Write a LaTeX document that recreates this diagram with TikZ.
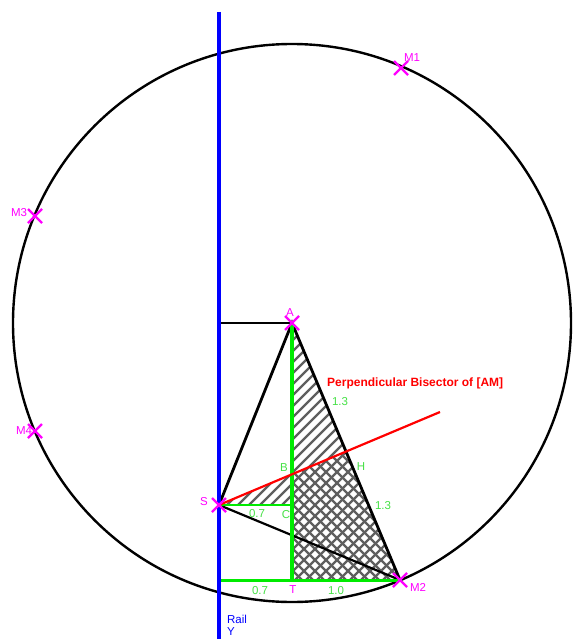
\documentclass[tikz,border=0pt]{standalone}
\usepackage{fontspec}
\setmainfont{Liberation Sans}
\definecolor{lime}{RGB}{0,235,0}
\definecolor{limetext}{RGB}{70,225,70}
\definecolor{mag}{RGB}{255,0,255}
\definecolor{hatchgray}{RGB}{95,95,95}
\definecolor{railblue}{RGB}{0,0,255}
\tikzset{
  mark cross/.style={draw=mag, line width=2.2pt},
  ptlabel/.style={inner sep=0pt, font=\fontsize{11.5}{11.5}\selectfont},
  maglabel/.style={ptlabel, text=mag},
  greenlabel/.style={ptlabel, text=limetext},
  hatchline/.style={draw=hatchgray, line width=2.4pt},
  tri/.style={draw=black, line width=2.8pt},
  greenline/.style={draw=lime, line width=3.4pt},
}
\begin{document}
\begin{tikzpicture}[x=1pt,y=-1pt]
\useasboundingbox (0,0) rectangle (573,639);
\fill[white] (0,0) rectangle (573,639);
% points
\coordinate (A) at (292,323);
\coordinate (M1) at (401,68);
\coordinate (M2) at (400,580);
\coordinate (M3) at (35,216);
\coordinate (M4) at (35,431);
\coordinate (S) at (219,505);
\coordinate (C) at (292,505);
\coordinate (B) at (292,474.3);
\coordinate (H) at (346,451.5);
\coordinate (T) at (292,580);
\coordinate (R) at (219,580);
\coordinate (Q) at (219,323);
\coordinate (E) at (440,412);
\coordinate (Ytop) at (219,12);
\coordinate (Ybot) at (219,639);
% hatching NE
\begin{scope}
\clip (A) -- (T) -- (M2) -- cycle (S) -- (B) -- (C) -- cycle;
\foreach \c in {600,611,...,1000} \draw[hatchline] (\c,0) -- ({\c-650},650);
\end{scope}
% hatching NW
\begin{scope}
\clip (B) -- (H) -- (M2) -- (T) -- cycle;
\foreach \c in {-300,-289,...,-80} \draw[hatchline] (\c,0) -- ({\c+650},650);
\end{scope}
% circle
\draw[line width=2.4pt] (A) circle (279);
% black lines
\draw[line width=1.8pt] (Q) -- (A);
\draw[tri] (S) -- (A) -- (M2);
\draw[line width=2.2pt] (S) -- (M2);
% green lines
\draw[greenline] (A) -- (T);
\draw[draw=lime, line width=3pt] (R) -- (M2);
\draw[draw=lime, line width=2.4pt] (S) -- (C);
% red bisector
\draw[red, line width=2.2pt] (S) -- (E);
% rail
\draw[railblue, line width=3.6pt] (Ytop) -- (Ybot);
% markers
\foreach \p in {A,M1,M2,M3,M4,S} {
  \draw[mark cross] ([shift={(-7,-7)}]\p) -- ([shift={(7,7)}]\p);
  \draw[mark cross] ([shift={(-7,7)}]\p) -- ([shift={(7,-7)}]\p);
}
% labels
\node[maglabel] (lA) at (290,313) {A};
\node[maglabel] (lM1) at (412,58) {M1};
\node[maglabel] (lM2) at (418,587) {M2};
\node[maglabel] (lM3) at (19,213) {M3};
\node[maglabel] (lM4) at (24,431) {M4};
\node[maglabel] (lS) at (204,502) {S};
\node[maglabel] (lT) at (293,590) {T};
\node[greenlabel] (lB) at (284,468) {B};
\node[greenlabel] (lH) at (361,467) {H};
\node[greenlabel] (lC) at (286,515) {C};
\node[greenlabel] (l1) at (340,402) {1.3};
\node[greenlabel] (l2) at (383,506) {1.3};
\node[greenlabel] (l3) at (257,514) {0.7};
\node[greenlabel] (l4) at (260,591) {0.7};
\node[greenlabel] (l5) at (336,591) {1.0};
\node[ptlabel, text=red, font=\bfseries\fontsize{12}{12}\selectfont, anchor=west] (lbis) at (327,383) {Perpendicular Bisector of [AM]};
\node[ptlabel, text=railblue] (lrail) at (237,619) {Rail};
\node[ptlabel, text=railblue] (ly) at (231,632) {Y};
\end{tikzpicture}
\end{document}
